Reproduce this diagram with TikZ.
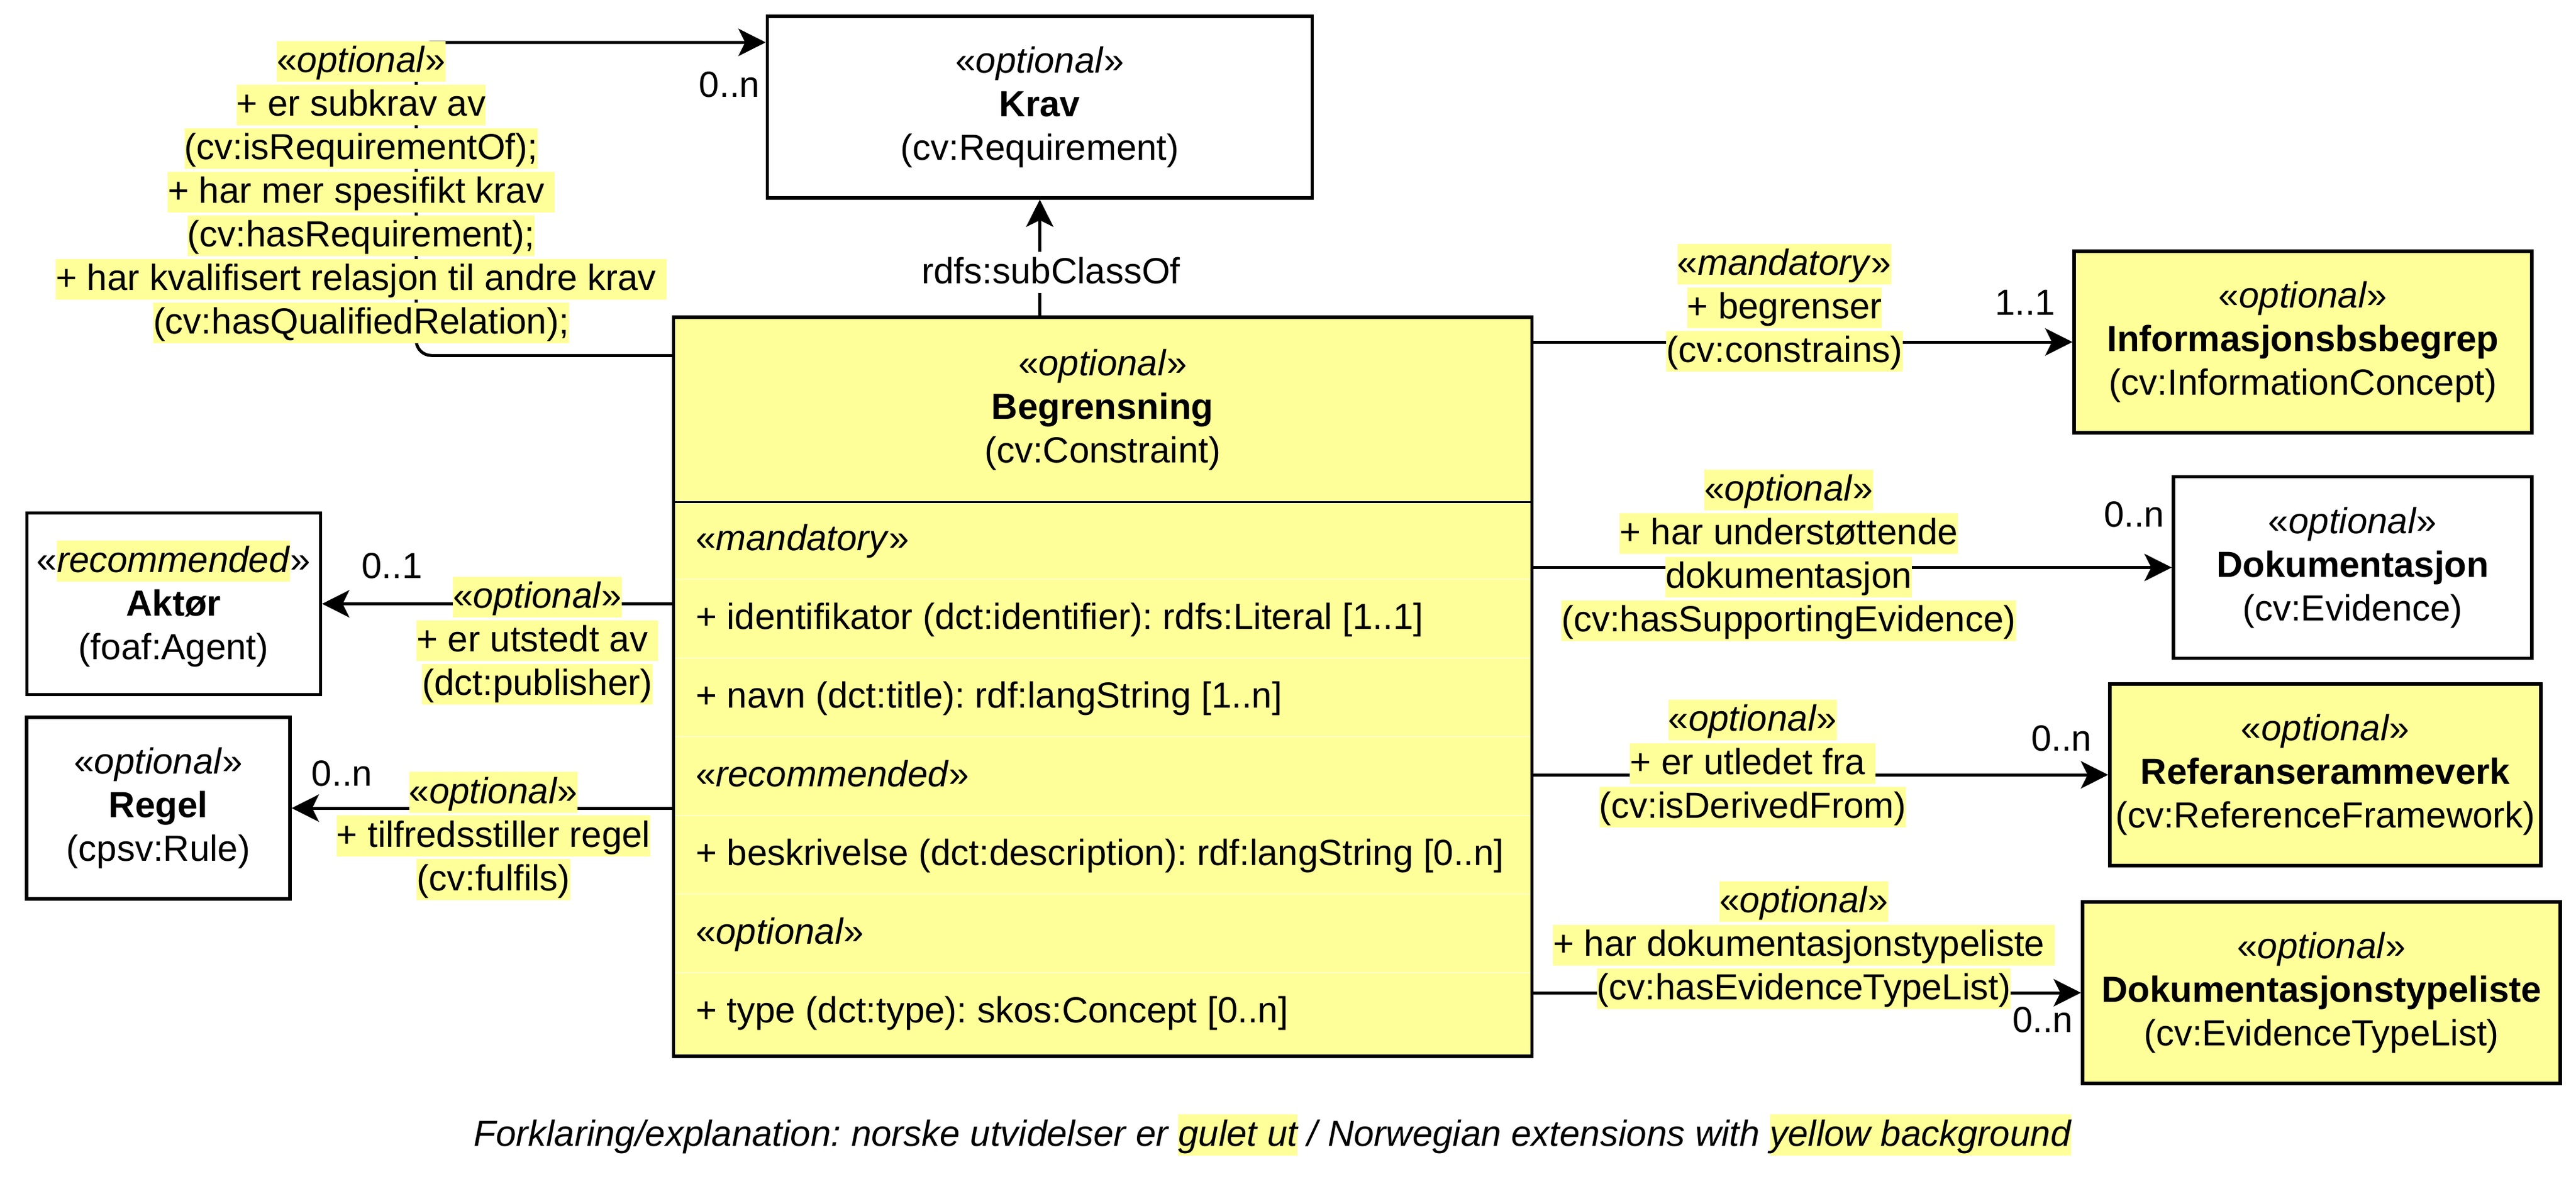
\documentclass[tikz,border=0pt]{standalone}
\usepackage{fontspec}
\setmainfont{Liberation Sans}
\usetikzlibrary{arrows.meta}
\definecolor{uyellow}{HTML}{FFFF99}
\definecolor{udiv}{HTML}{FFFFC8}
\newcommand{\hly}[1]{{\setlength{\fboxsep}{0pt}\colorbox{uyellow}{\rule[-3.1pt]{0pt}{13.5pt}#1}}}
\newcommand{\stereo}[1]{«\textit{#1}»}
\frenchspacing
\begin{document}
\begin{tikzpicture}[x=1pt,y=-1pt,font=\fontsize{12pt}{14.4pt}\selectfont,
					whitenode/.style={shape=rectangle, draw, line width=1.1pt, fill=white, minimum height=60pt, inner sep=0pt, align=center},
					yellownode/.style={whitenode, fill=uyellow},
					linknode/.style={inner sep=0pt, align=center},
					attr/.style={anchor=west, inner sep=0pt, text height=10.4pt, text depth=3.1pt},
					divider/.style={draw=udiv, line width=0.4pt},
					arr/.style={line width=1pt, -{Stealth[length=9pt,width=9pt,inset=2.2pt]}}
					]
	\useasboundingbox (0,0) rectangle (851,391); %page

	%classes-----------------------------------------------
	\node[whitenode, minimum width=180pt] (krav) at (343.5,35.4) {\stereo{optional}\\\textbf{Krav}\\(cv:Requirement)}; %Krav
	\node[yellownode, draw=none, minimum width=282.5pt] (beg) at (364.25,135.3) {\stereo{optional}\\\textbf{Begrensning}\\(cv:Constraint)}; %Begrensning header
	\node[yellownode, draw=none, minimum width=282.5pt, minimum height=182pt, anchor=north] (begattr) at (beg.south) {}; %Begrensning attributes
	\draw[divider] (223,191.3) -- (505.5,191.3); %row 1
	\draw[divider] (223,217.3) -- (505.5,217.3); %row 2
	\draw[divider] (223,243.3) -- (505.5,243.3); %row 3
	\draw[divider] (223,269.3) -- (505.5,269.3); %row 4
	\draw[divider] (223,295.3) -- (505.5,295.3); %row 5
	\draw[divider] (223,321.3) -- (505.5,321.3); %row 6
	\draw[line width=0.5pt] (beg.south west) -- (beg.south east); %separator
	\draw[line width=1.1pt] (beg.north west) rectangle (begattr.south east); %outer border
	\node[attr] (a1) at (229.6,178.3) {\stereo{mandatory}};
	\node[attr] (a2) at (229.6,204.3) {+ identifikator (dct:identifier): rdfs:Literal [1..1]};
	\node[attr] (a3) at (229.6,230.3) {+ navn (dct:title): rdf:langString [1..n]};
	\node[attr] (a4) at (229.6,256.3) {\stereo{recommended}};
	\node[attr] (a5) at (229.6,282.3) {+ beskrivelse (dct:description): rdf:langString [0..n]};
	\node[attr] (a6) at (229.6,308.3) {\stereo{optional}};
	\node[attr] (a7) at (229.6,334.3) {+ type (dct:type): skos:Concept [0..n]};

	\node[whitenode, minimum width=97pt] (akt) at (57.35,199.5) {«\hly{\textit{recommended}}»\\\textbf{Aktør}\\(foaf:Agent)}; %Aktor
	\node[whitenode, minimum width=87pt] (reg) at (52.3,267) {\stereo{optional}\\\textbf{Regel}\\(cpsv:Rule)}; %Regel
	\node[yellownode, minimum width=151.2pt] (inf) at (760.8,113) {\stereo{optional}\\\textbf{Informasjonsbsbegrep}\\(cv:InformationConcept)}; %Informasjonsbsbegrep
	\node[whitenode, minimum width=118.4pt] (dok) at (777.2,187.5) {\stereo{optional}\\\textbf{Dokumentasjon}\\(cv:Evidence)}; %Dokumentasjon
	\node[yellownode, minimum width=142.4pt] (ref) at (768.2,256) {\stereo{optional}\\\textbf{Referanserammeverk}\\(cv:ReferenceFramework)}; %Referanserammeverk
	\node[yellownode, minimum width=157.8pt] (dtl) at (766.9,328) {\stereo{optional}\\\textbf{Dokumentasjonstypeliste}\\(cv:EvidenceTypeList)}; %Dokumentasjonstypeliste

	%connectors--------------------------------------------
	\coordinate (bend) at (137.5,14); %corner behind label
	\coordinate (kravin) at ([yshift=21.4pt]krav.west); %Krav entry
	\draw[arr, rounded corners=5pt] ([yshift=-12.7pt]beg.north west) -| (bend) -- (kravin); %requirement relations
	\draw[arr] (beg.north -| krav.south) -- (krav.south); %subclass
	\draw[arr] (beg.east |- inf.west) -- (inf.west); %constrains
	\draw[arr] (beg.east |- dok.west) -- (dok.west); %supporting evidence
	\draw[arr] (beg.east |- ref.west) -- (ref.west); %derived from
	\draw[arr] (beg.east |- dtl.west) -- (dtl.west); %evidence type list
	\draw[arr] (beg.west |- akt.east) -- (akt.east); %publisher
	\draw[arr] (beg.west |- reg.east) -- (reg.east); %fulfils

	%labels------------------------------------------------
	\node[linknode] (lreq) at (119.3,63.5) {\hly{\stereo{optional}}\\\hly{+ er subkrav av}\\\hly{(cv:isRequirementOf);}\\\hly{+ har mer spesifikt krav\ }\\\hly{(cv:hasRequirement);}\\\hly{+ har kvalifisert relasjon til andre krav\ }\\\hly{(cv:hasQualifiedRelation);}}; %Krav label
	\node[fill=white, inner sep=0pt, text height=10.4pt, text depth=3.1pt] (lsub) at (347.2,90) {rdfs:subClassOf}; %subclass label
	\node[linknode] (lcon) at (589.5,101.7) {\hly{\stereo{mandatory}}\\\hly{+ begrenser}\\\hly{(cv:constrains)}}; %constrains label
	\node[linknode] (lsup) at (590.9,183.5) {\hly{\stereo{optional}}\\\hly{+ har understøttende}\\\hly{dokumentasjon}\\\hly{(cv:hasSupportingEvidence)}}; %evidence label
	\node[linknode] (lder) at (579,252.3) {\hly{\stereo{optional}}\\\hly{+ er utledet fra\ }\\\hly{(cv:isDerivedFrom)}}; %derived label
	\node[linknode] (letl) at (595.9,312.3) {\hly{\stereo{optional}}\\\hly{+ har dokumentasjonstypeliste\ }\\\hly{(cv:hasEvidenceTypeList)}}; %type list label
	\node[linknode] (lpub) at (177.5,211.7) {\hly{\stereo{optional}}\\\hly{+ er utstedt av\ }\\\hly{(dct:publisher)}}; %publisher label
	\node[linknode] (lful) at (163,276.2) {\hly{\stereo{optional}}\\\hly{+ tilfredsstiller regel}\\\hly{(cv:fulfils)}}; %fulfils label

	%multiplicities
	\node[] (mreq) at (241,28) {0..n}; %Krav
	\node[] (mcon) at (669,100) {1..1}; %Informasjonsbsbegrep
	\node[] (msup) at (705,170) {0..n}; %Dokumentasjon
	\node[] (mder) at (681,244) {0..n}; %Referanserammeverk
	\node[] (metl) at (674.8,337) {0..n}; %Dokumentasjonstypeliste
	\node[] (mpub) at (129.5,187) {0..1}; %Aktor
	\node[] (mful) at (113,255.5) {0..n}; %Regel

	%caption
	\node[] (cap) at (420.3,375) {\textit{Forklaring/explanation: norske utvidelser er \hly{gulet ut} / Norwegian extensions with \hly{yellow background}}}; %legend
\end{tikzpicture}
\end{document}
